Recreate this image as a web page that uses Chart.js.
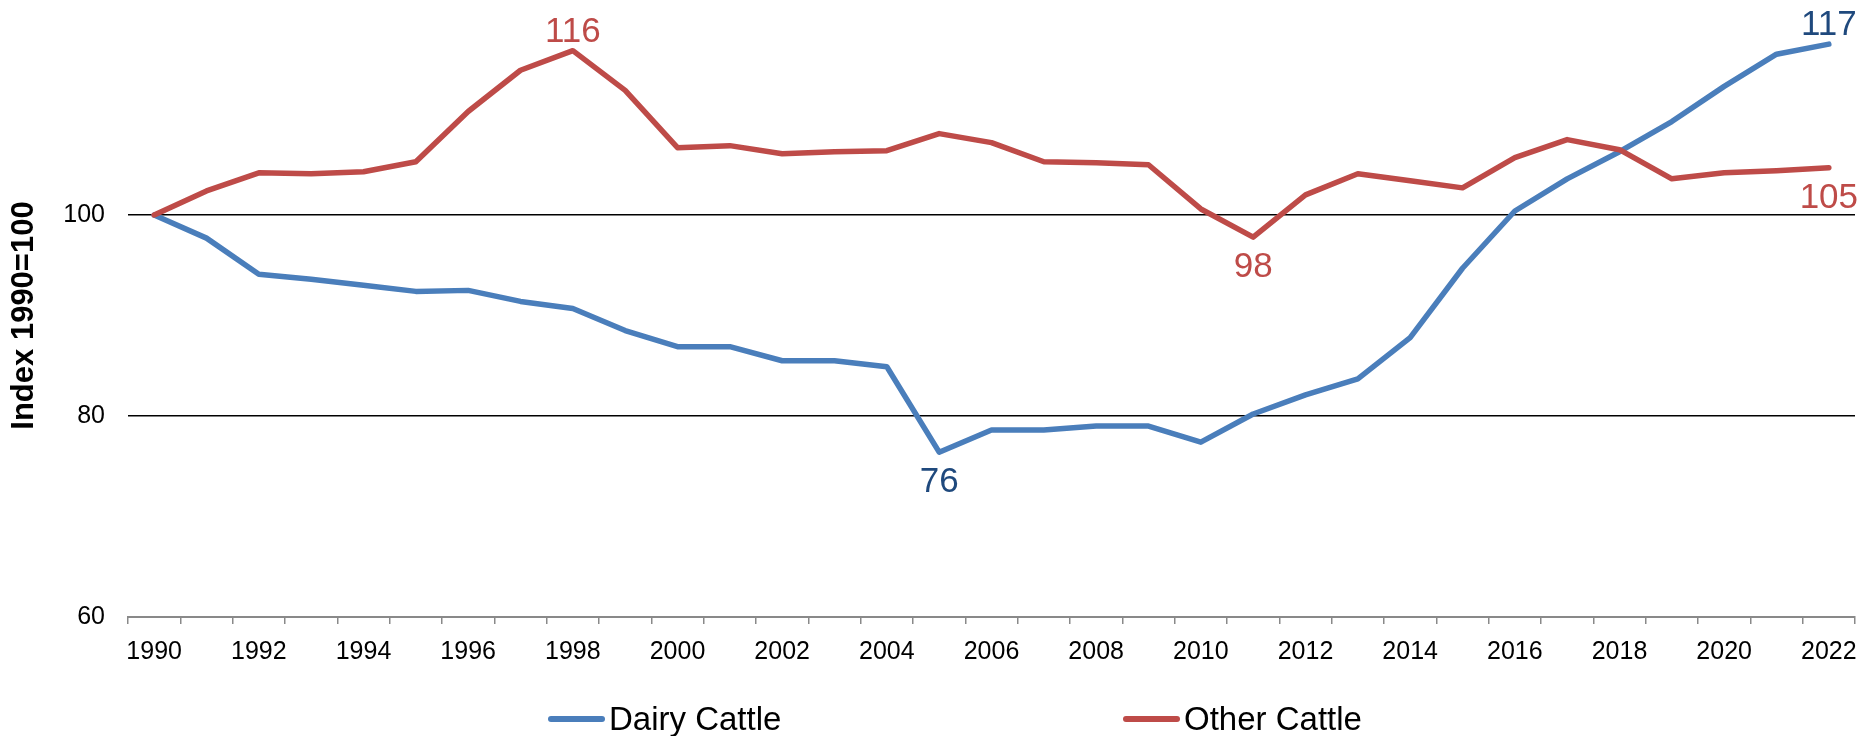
<!DOCTYPE html>
<html>
<head>
<meta charset="utf-8">
<script src="https://cdn.jsdelivr.net/npm/chart.js@4"></script>
<style>
  html, body { margin: 0; padding: 0; background: #fff; }
  #wrap { position: relative; width: 1864px; height: 736px; }
  canvas { position: absolute; left: 0; top: 0; }
  .leg { position: absolute; top: 700px; height: 38px; display: flex; align-items: center;
         font-family: "Liberation Sans", Arial, sans-serif; font-size: 33px; line-height: 38px; color: #000; white-space: nowrap; }
  .sw { display: inline-block; width: 57px; height: 6px; border-radius: 3px; margin-right: 4px; }
</style>
</head>
<body>
<div id="wrap">
  <canvas id="c" width="1864" height="736"></canvas>
  <div class="leg" style="left:548px"><span class="sw" style="background:#4A7EBB"></span><span>Dairy Cattle</span></div>
  <div class="leg" style="left:1123px"><span class="sw" style="background:#BE4B48"></span><span>Other Cattle</span></div>
</div>
<script>
const years = ['1990','1991','1992','1993','1994','1995','1996','1997','1998','1999','2000','2001','2002','2003','2004','2005','2006','2007','2008','2009','2010','2011','2012','2013','2014','2015','2016','2017','2018','2019','2020','2021','2022'];
const xTickLabels = ['1990','1992','1994','1996','1998','2000','2002','2004','2006','2008','2010','2012','2014','2016','2018','2020','2022'];
const yTickValues = [60, 80, 100];

const dairyCattle = [100, 97.7, 94.1, 93.6, 93.0, 92.4, 92.5, 91.4, 90.7, 88.5, 86.9, 86.9, 85.5, 85.5, 84.9, 76.4, 78.6, 78.6, 79.0, 79.0, 77.4, 80.2, 82.1, 83.7, 87.8, 94.7, 100.4, 103.6, 106.3, 109.3, 112.8, 116.0, 117.0];
const otherCattle = [100, 102.4, 104.2, 104.1, 104.3, 105.3, 110.3, 114.4, 116.35, 112.4, 106.7, 106.9, 106.1, 106.3, 106.4, 108.1, 107.2, 105.3, 105.2, 105.0, 100.6, 97.8, 102.0, 104.1, 103.4, 102.7, 105.7, 107.5, 106.5, 103.6, 104.2, 104.4, 104.7];

// which points carry a value label, and on which side
const dairyLabelYears = ['2005', '2022'];
const dairyLabelSides = ['below', 'above'];
const otherLabelYears = ['1998', '2011', '2022'];
const otherLabelSides = ['above', 'below', 'below'];

const FONT = '"Liberation Sans", Arial, sans-serif';

const valueLabels = {
  id: 'valueLabels',
  afterDatasetsDraw(chart, args, opts) {
    const ctx = chart.ctx;
    opts.sets.forEach(s => {
      const meta = chart.getDatasetMeta(s.dataset);
      const data = chart.data.datasets[s.dataset].data;
      s.years.forEach((yr, k) => {
        const idx = years.indexOf(yr);
        const pt = meta.data[idx];
        if (!pt) return;
        ctx.save();
        ctx.font = '35px ' + FONT;
        ctx.fillStyle = s.color;
        ctx.textAlign = 'center';
        ctx.textBaseline = 'alphabetic';
        const y = s.sides[k] === 'above' ? pt.y - 9 : pt.y + 15 + 25;
        ctx.fillText(String(Math.round(data[idx])), pt.x, y);
        ctx.restore();
      });
    });
  }
};

new Chart(document.getElementById('c'), {
  type: 'line',
  data: {
    labels: years,
    datasets: [
      { label: 'Dairy Cattle', data: dairyCattle, borderColor: '#4A7EBB', backgroundColor: '#4A7EBB',
        borderWidth: 5.5, pointRadius: 0, tension: 0, borderCapStyle: 'round', borderJoinStyle: 'round', order: 1 },
      { label: 'Other Cattle', data: otherCattle, borderColor: '#BE4B48', backgroundColor: '#BE4B48',
        borderWidth: 5.5, pointRadius: 0, tension: 0, borderCapStyle: 'round', borderJoinStyle: 'round', order: 0 }
    ]
  },
  options: {
    responsive: false,
    animation: false,
    devicePixelRatio: 1,
    layout: { padding: { top: 14, right: 9, bottom: 60, left: 0 } },
    plugins: {
      legend: { display: false },
      tooltip: { enabled: false },
      valueLabels: {
        sets: [
          { dataset: 0, years: dairyLabelYears, sides: dairyLabelSides, color: '#1F497D' },
          { dataset: 1, years: otherLabelYears, sides: otherLabelSides, color: '#BE4B48' }
        ]
      }
    },
    scales: {
      x: {
        type: 'category',
        offset: true,
        grid: { offset: true, drawOnChartArea: false, drawTicks: true, tickLength: 7, color: '#898989', lineWidth: 1.5 },
        border: { display: true, color: '#898989', width: 2 },
        ticks: {
          autoSkip: false, maxRotation: 0, minRotation: 0, padding: 13, color: '#000',
          font: { size: 25, family: FONT },
          callback: (v, i) => xTickLabels.includes(years[i]) ? years[i] : ''
        },
        afterFit(s) { s.height = 59; s.paddingLeft = 0; s.paddingRight = 0; }
      },
      y: {
        min: 60, max: 120,
        afterBuildTicks(s) { s.ticks = yTickValues.map(v => ({ value: v })); },
        grid: { drawTicks: false, lineWidth: 1.5, color: c => (c.tick && c.tick.value === 60) ? 'rgba(0,0,0,0)' : '#000' },
        border: { display: false },
        ticks: { padding: 23, color: '#000', font: { size: 25, family: FONT } },
        title: { display: true, text: 'Index 1990=100', color: '#000', font: { size: 31, weight: 'bold', family: FONT }, padding: { top: 6, bottom: 0 } },
        afterFit(s) { s.width = 128; s.paddingTop = 0; s.paddingBottom = 0; }
      }
    }
  },
  plugins: [valueLabels]
});
</script>
</body>
</html>
